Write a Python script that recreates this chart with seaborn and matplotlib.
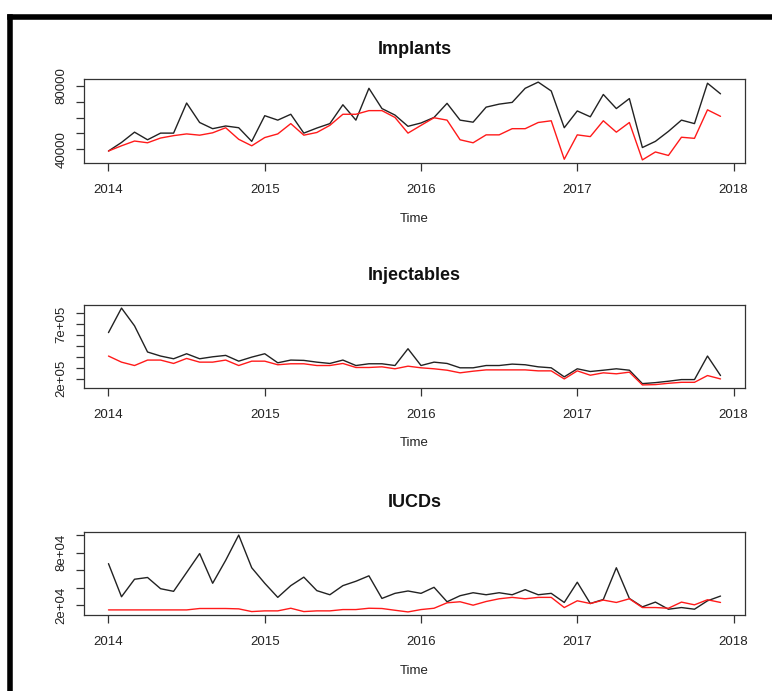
import numpy as np
import pandas as pd
import matplotlib
matplotlib.use("Agg")
import matplotlib.pyplot as plt
from matplotlib.lines import Line2D
import seaborn as sns

# monthly series, Jan 2014 - Dec 2017
start_year = 2014
n_months = 48
year_ticks = [2014, 2015, 2016, 2017, 2018]

implants_black = [38900, 44300, 50800, 46000, 50200, 50200, 69200, 56900, 53000, 54700,
                  53600, 45000, 61200, 58400, 62100, 50200, 53400, 56200, 68100, 58400,
                  78500, 65700, 61600, 54500, 56600, 60100, 69000, 58400, 57100, 66600,
                  68500, 69600, 78500, 82400, 76800, 53600, 64200, 60500, 74600, 65700,
                  72000, 41100, 45000, 51300, 58400, 56200, 81700, 75000]
implants_red = [38900, 42200, 45200, 44100, 47100, 48600, 49700, 48900, 50400, 53600,
                46300, 42200, 47400, 49700, 56200, 48900, 50600, 55100, 62100, 62100,
                64400, 64400, 60100, 50200, 55100, 59900, 58400, 46000, 44100, 49100,
                49100, 53000, 53000, 56900, 58000, 33700, 49100, 48000, 58000, 50800,
                56900, 33300, 38300, 36100, 47600, 46900, 64900, 60800]

injectables_black = [623000, 848000, 685000, 445000, 408000, 383000, 429000, 383000, 401000, 414000,
                     361000, 398000, 429000, 346000, 371000, 368000, 352000, 340000, 371000, 321000,
                     337000, 337000, 321000, 475000, 321000, 352000, 340000, 300000, 300000, 321000,
                     321000, 334000, 328000, 309000, 300000, 217000, 291000, 266000, 278000, 291000,
                     278000, 155000, 164000, 177000, 192000, 192000, 408000, 229000]
injectables_red = [408000, 352000, 321000, 371000, 371000, 340000, 386000, 352000, 352000, 371000,
                   321000, 361000, 361000, 328000, 337000, 337000, 321000, 321000, 340000, 303000,
                   303000, 309000, 291000, 315000, 300000, 291000, 278000, 254000, 269000, 281000,
                   281000, 281000, 281000, 272000, 272000, 198000, 272000, 232000, 254000, 245000,
                   260000, 143000, 146000, 158000, 167000, 167000, 229000, 198000]

iucds_black = [67400, 29600, 49600, 51600, 38800, 35800, 57300, 78900, 45000, 71200,
               100000, 62700, 45000, 28900, 42300, 52000, 36600, 31900, 42300, 47300,
               53500, 27700, 33500, 36200, 33500, 40400, 23900, 30800, 34200, 31900,
               34200, 31900, 37700, 31900, 33500, 23100, 46200, 21900, 26500, 62700,
               27700, 18100, 23500, 15400, 17300, 15400, 25000, 30400]
iucds_red = [14600, 14600, 14600, 14600, 14600, 14600, 14600, 16200, 16200, 16200,
             15800, 12700, 13500, 13500, 16500, 12700, 13500, 13500, 15000, 15000,
             16500, 16200, 14200, 12300, 15000, 16500, 22700, 23900, 20000, 24200,
             27300, 28900, 27300, 28900, 28900, 17300, 25000, 21900, 25800, 23100,
             27300, 17300, 17300, 16500, 23500, 20400, 26200, 23100]

titles = ["Implants", "Injectables", "IUCDs"]
black_series = [implants_black, injectables_black, iucds_black]
red_series = [implants_red, injectables_red, iucds_red]

ytick_values = [[40000, 50000, 60000, 70000, 80000],
                [200000, 300000, 400000, 500000, 600000, 700000, 800000],
                [20000, 40000, 60000, 80000, 100000]]
ytick_labels = [["40000", "", "", "", "80000"],
                ["2e+05", "", "", "", "", "7e+05", ""],
                ["2e+04", "", "", "8e+04", ""]]

sns.set_style("ticks")
plt.rcParams['font.family'] = ['Liberation Sans', 'DejaVu Sans']

W, H = 772, 691
fig = plt.figure(figsize=(W / 100, H / 100), dpi=100)

# panel boxes in pixels: (left, top, right, bottom)
boxes = [(84, 79, 745, 163), (84, 305, 745, 388), (84, 532, 745, 615)]

time = start_year + np.arange(n_months) / 12.0

for k in range(3):
    l, t, r, b = boxes[k]
    ax = fig.add_axes([l / W, 1 - b / H, (r - l) / W, (b - t) / H])
    df = pd.DataFrame({"Time": time, "black": black_series[k], "red": red_series[k]})
    sns.lineplot(data=df, x="Time", y="black", color="#222222", linewidth=1.0, ax=ax)
    sns.lineplot(data=df, x="Time", y="red", color="#ff1a1a", linewidth=1.0, ax=ax)
    ax.margins(x=0.04, y=0.04)

    ax.set_xticks(year_ticks)
    ax.set_xticklabels([str(y) for y in year_ticks])
    ax.set_yticks(ytick_values[k])
    ax.set_yticklabels(ytick_labels[k], rotation=90, va="center")

    ax.tick_params(axis="both", direction="out", length=6, width=0.9,
                   bottom=True, left=True, top=False, right=False,
                   color="#333333", labelsize=9.5, labelcolor="#222222")
    ax.tick_params(axis="x", pad=9)
    ax.tick_params(axis="y", pad=6)
    for s in ax.spines.values():
        s.set_visible(True)
        s.set_color("#333333")
        s.set_linewidth(0.9)

    ax.set_title(titles[k], fontsize=13, fontweight="bold", pad=18, color="#111111")
    ax.set_xlabel("Time", fontsize=9.5, labelpad=12, color="#222222")
    ax.set_ylabel("")

# outer frame: thick line on the left and top
fig.add_artist(Line2D([9.5 / W, 9.5 / W], [0, 1 - 16.5 / H], color="black",
                      linewidth=4, transform=fig.transFigure, solid_capstyle="projecting"))
fig.add_artist(Line2D([9.5 / W, 1], [1 - 16.5 / H, 1 - 16.5 / H], color="black",
                      linewidth=4, transform=fig.transFigure, solid_capstyle="projecting"))

fig.savefig("out.png", dpi=100)
